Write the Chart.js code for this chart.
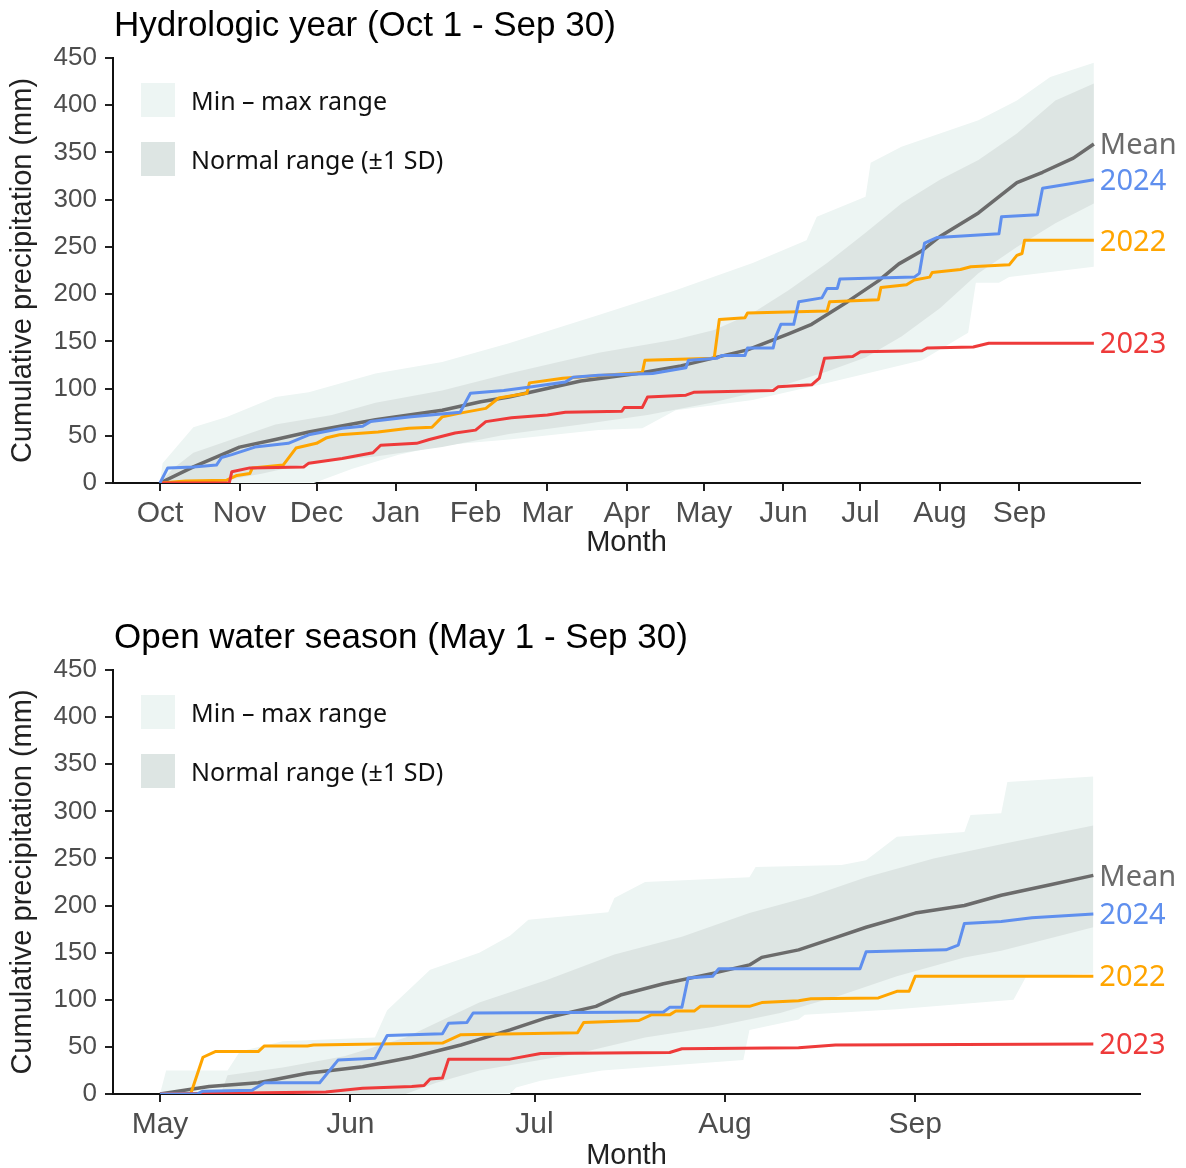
<!DOCTYPE html>
<html>
<head>
<meta charset="utf-8">
<title>Cumulative precipitation</title>
<script src="https://cdn.jsdelivr.net/npm/chart.js@4.4.1/dist/chart.umd.min.js"></script>
<style>
  html, body { margin: 0; padding: 0; background: #fff; }
  canvas { display: block; }
</style>
</head>
<body>
<canvas id="hydroChart" width="1186" height="584"></canvas>
<canvas id="openChart" width="1186" height="584"></canvas>
<script>
// ---- Hydrologic year (day 0 = Oct 1), [day, mm] ----
const hydroMonthDays = [0, 31, 61, 92, 123, 151, 182, 212, 243, 273, 304, 335];
const hydroMonthLabels = ["Oct", "Nov", "Dec", "Jan", "Feb", "Mar", "Apr", "May", "Jun", "Jul", "Aug", "Sep"];

const hydroMax = [[0,0],[1,21],[13,59],[26,70],[45,91],[58,96],[84,116],[110,128],[136,148],[171,178],[201,204],[231,233],[252,257],[256,282],[275,303],[277,339],[289,356],[319,384],[334,405],[347,430],[364,445]];
const hydroMin = [[0,0],[60,0],[75,15],[93,30],[110,40],[136,46],[171,56],[188,58],[201,77],[231,88],[260,106],[297,130],[315,159],[318,212],[327,212],[331,218],[364,229]];
const hydroSdHi = [[0,0],[5,15],[13,32],[28,46],[45,62],[67,72],[84,85],[110,98],[136,116],[171,138],[201,152],[216,162],[231,180],[245,204],[260,233],[275,265],[289,296],[304,321],[319,342],[334,370],[349,405],[364,423]];
const hydroSdLo = [[0,0],[20,0],[40,10],[58,21],[84,28],[110,38],[136,52],[164,62],[190,72],[215,85],[241,102],[260,118],[275,133],[289,155],[304,185],[319,222],[334,250],[349,275],[364,296]];
const hydroMean = [[0,0],[13,17],[31,38],[45,46],[58,54],[84,67],[110,77],[125,86],[136,91],[164,108],[186,116],[203,124],[229,141],[245,158],[254,168],[268,192],[280,214],[288,232],[297,246],[304,261],[319,286],[334,318],[344,329],[356,344],[364,359]];
const hydro2022 = [[0,0],[10,2],[26,3],[30,8],[35,10],[36,16],[48,19],[53,37],[61,42],[65,48],[70,51],[85,54],[97,58],[106,59],[110,70],[117,74],[127,79],[132,90],[143,95],[144,106],[157,111],[188,117],[189,130],[216,132],[218,173],[228,175],[229,180],[260,182],[261,192],[280,194],[281,207],[291,210],[294,215],[300,218],[301,223],[312,226],[316,229],[331,231],[334,241],[336,243],[337,257],[364,257]];
const hydro2023 = [[0,0],[27,0],[28,12],[35,16],[56,17],[58,21],[71,26],[83,32],[86,40],[100,42],[105,46],[115,53],[123,56],[127,65],[137,69],[151,72],[158,75],[180,76],[181,80],[188,80],[190,91],[205,93],[208,96],[239,98],[241,102],[254,104],[257,111],[259,132],[270,134],[273,139],[297,140],[299,143],[317,144],[323,148],[364,148]];
const hydro2024 = [[0,0],[3,16],[13,17],[22,19],[24,27],[28,30],[37,38],[50,42],[58,51],[71,58],[79,60],[82,65],[97,70],[117,75],[121,95],[134,98],[145,102],[158,107],[161,112],[171,114],[192,116],[205,122],[206,130],[217,132],[219,135],[228,135],[229,143],[239,143],[240,155],[242,168],[247,168],[249,192],[258,196],[260,206],[264,206],[265,216],[294,218],[296,222],[298,254],[303,260],[327,264],[328,282],[342,284],[344,312],[353,316],[364,321]];

// ---- Open water season (day 0 = May 1), [day, mm] ----
const openMonthDays = [0, 31, 61, 92, 123];
const openMonthLabels = ["May", "Jun", "Jul", "Aug", "Sep"];

const openMax = [[0,0],[1,25],[11,25],[13,45],[20,56],[35,60],[37,89],[44,132],[52,150],[57,168],[60,185],[73,193],[74,208],[79,225],[96,230],[97,241],[111,243],[115,248],[120,273],[131,278],[132,296],[137,298],[138,331],[152,337]];
const openMin = [[0,0],[57,0],[58,7],[62,14],[72,25],[95,36],[96,68],[104,79],[105,84],[120,90],[139,100],[141,124],[152,128]];
const openSdHi = [[0,0],[10,2],[11,20],[20,28],[30,40],[40,60],[52,97],[63,121],[74,148],[85,167],[96,192],[106,210],[115,230],[126,250],[137,265],[152,285]];
const openSdLo = [[0,0],[40,0],[45,12],[52,25],[68,43],[79,60],[90,71],[101,86],[111,105],[120,125],[131,145],[137,152],[152,177]];
const openMean = [[0,0],[8,8],[16,12],[24,22],[33,29],[41,39],[49,52],[52,58],[57,68],[63,81],[71,93],[75,105],[82,117],[90,128],[96,137],[98,145],[104,153],[110,166],[115,177],[123,192],[131,200],[137,211],[145,222],[152,232]];
const open2022 = [[0,0],[5,0],[7,39],[9,45],[16,45],[17,51],[24,51],[25,52],[46,54],[49,63],[68,65],[69,76],[78,78],[80,84],[83,84],[84,88],[87,88],[88,93],[96,93],[98,97],[104,99],[106,101],[117,102],[120,109],[122,109],[123,125],[152,125]];
const open2023 = [[0,0],[27,2],[33,6],[41,8],[43,9],[44,16],[46,17],[47,37],[57,37],[62,43],[83,44],[85,48],[104,49],[110,52],[152,53]];
const open2024 = [[0,0],[6,0],[7,3],[15,4],[17,12],[26,12],[29,36],[35,38],[37,62],[46,64],[47,75],[50,76],[51,86],[82,87],[83,92],[85,92],[86,123],[90,125],[91,133],[114,133],[115,151],[128,153],[130,158],[131,181],[137,183],[142,187],[152,191]];

const COLORS = {
  light: "#edf5f3",
  dark: "#dde5e3",
  mean: "#6b6b6b",
  y2022: "#ffa500",
  y2023: "#ee3a3a",
  y2024: "#5f8fee",
};

const toXY = (arr) => arr.map(([x, y]) => ({ x, y }));

// title, legend and right-hand line labels
const overlayPlugin = {
  id: "overlay",
  afterDraw(chart, args, opts) {
    const { ctx, chartArea } = chart;
    ctx.save();
    ctx.textBaseline = "middle";
    ctx.textAlign = "left";

    ctx.font = '35px "Liberation Sans", Arial, sans-serif';
    ctx.fillStyle = "#000";
    ctx.fillText(opts.title, chartArea.left + 1, chartArea.top - 32);

    const boxes = [
      { color: COLORS.light, text: "Min \u2013 max range", dy: 25 },
      { color: COLORS.dark, text: "Normal range (\u00b11 SD)", dy: 84 },
    ];
    ctx.font = '25px "Noto Sans", "Open Sans", sans-serif';
    boxes.forEach((b) => {
      ctx.fillStyle = b.color;
      ctx.fillRect(chartArea.left + 28, chartArea.top + b.dy, 34, 34);
      ctx.fillStyle = "#111";
      ctx.fillText(b.text, chartArea.left + 78, chartArea.top + b.dy + 20);
    });

    ctx.font = '29px "Noto Sans", "Open Sans", sans-serif';
    chart.data.datasets.forEach((ds, i) => {
      if (!ds.endLabel) return;
      const pts = chart.getDatasetMeta(i).data;
      const last = pts[pts.length - 1];
      ctx.fillStyle = ds.borderColor;
      ctx.fillText(ds.endLabel, last.x + 6, last.y + 2);
    });
    ctx.restore();
  },
};

function makeChart(id, cfg) {
  const band = (data, fill, color, order) => ({
    data: toXY(data),
    fill,
    backgroundColor: color,
    borderColor: "transparent",
    borderWidth: 0,
    pointRadius: 0,
    order,
  });
  const line = (data, color, width, label, order) => ({
    data: toXY(data),
    fill: false,
    borderColor: color,
    borderWidth: width,
    pointRadius: 0,
    endLabel: label,
    order,
  });

  return new Chart(document.getElementById(id), {
    type: "line",
    data: {
      datasets: [
        band(cfg.max, "+1", COLORS.light, 10),
        band(cfg.min, false, COLORS.light, 10),
        band(cfg.sdHi, "+1", COLORS.dark, 9),
        band(cfg.sdLo, false, COLORS.dark, 9),
        line(cfg.mean, COLORS.mean, 3.5, "Mean", 4),
        line(cfg.y2022, COLORS.y2022, 3, "2022", 3),
        line(cfg.y2023, COLORS.y2023, 3, "2023", 2),
        line(cfg.y2024, COLORS.y2024, 3, "2024", 1),
      ],
    },
    options: {
      responsive: false,
      animation: false,
      layout: { padding: { top: cfg.padTop, right: 46, left: 0, bottom: 0 } },
      elements: { line: { tension: 0, borderJoinStyle: "round" } },
      plugins: {
        legend: { display: false },
        tooltip: { enabled: false },
        overlay: { title: cfg.title },
      },
      scales: {
        x: {
          type: "linear",
          min: cfg.xMin,
          max: cfg.xMax,
          afterBuildTicks: (scale) => {
            scale.ticks = cfg.monthDays.map((d) => ({ value: d }));
          },
          afterFit: (scale) => {
            scale.height = cfg.xHeight;
          },
          ticks: {
            autoSkip: false,
            maxRotation: 0,
            padding: 5,
            color: "#4d4d4d",
            font: { family: '"Liberation Sans", Arial, sans-serif', size: 30 },
            callback: (v) => cfg.monthLabels[cfg.monthDays.indexOf(v)],
          },
          grid: { drawOnChartArea: false, tickLength: 8, color: "#222", lineWidth: 2 },
          border: { display: true, color: "#111", width: 2 },
          title: {
            display: true,
            text: "Month",
            color: "#222",
            font: { family: '"Liberation Sans", Arial, sans-serif', size: 29, lineHeight: 0.82 },
            padding: { top: 0, bottom: cfg.monthPad },
          },
        },
        y: {
          min: 0,
          max: 450,
          afterFit: (scale) => {
            scale.width = 113;
          },
          ticks: {
            stepSize: 50,
            padding: 8,
            color: "#4d4d4d",
            font: { family: '"Liberation Sans", Arial, sans-serif', size: 26 },
          },
          grid: { drawOnChartArea: false, tickLength: 8, color: "#222", lineWidth: 2 },
          border: { display: true, color: "#111", width: 2 },
          title: {
            display: true,
            text: "Cumulative precipitation (mm)",
            color: "#222",
            font: { family: '"Liberation Sans", Arial, sans-serif', size: 29 },
            padding: { top: 6, bottom: 0 },
          },
        },
      },
    },
    plugins: [overlayPlugin],
  });
}

makeChart("hydroChart", {
  title: "Hydrologic year (Oct 1 - Sep 30)",
  max: hydroMax, min: hydroMin, sdHi: hydroSdHi, sdLo: hydroSdLo,
  mean: hydroMean, y2022: hydro2022, y2023: hydro2023, y2024: hydro2024,
  monthDays: hydroMonthDays, monthLabels: hydroMonthLabels,
  xMin: -18.32, xMax: 381.98,
  padTop: 58, xHeight: 101, monthPad: 29,
});

makeChart("openChart", {
  title: "Open water season (May 1 - Sep 30)",
  max: openMax, min: openMin, sdHi: openSdHi, sdLo: openSdLo,
  mean: openMean, y2022: open2022, y2023: open2023, y2024: open2024,
  monthDays: openMonthDays, monthLabels: openMonthLabels,
  xMin: -7.65, xMax: 159.6,
  padTop: 86, xHeight: 74, monthPad: 0,
});
</script>
</body>
</html>
